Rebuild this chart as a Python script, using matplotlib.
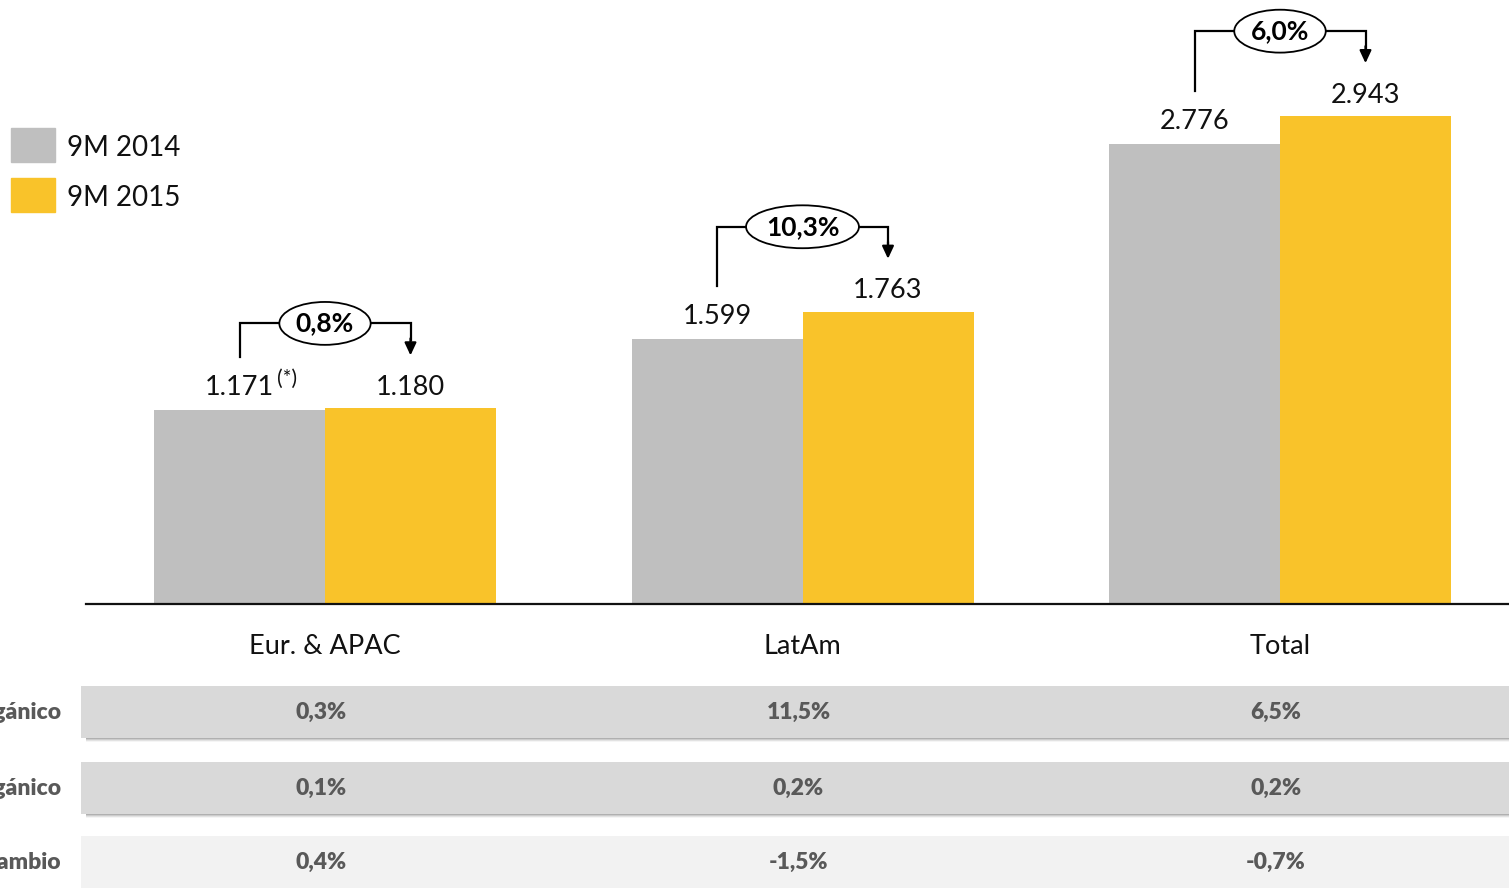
import matplotlib
matplotlib.use("Agg")
import matplotlib.pyplot as plt
from matplotlib.patches import Rectangle
import numpy as np

plt.rcParams['font.family'] = ['Lato', 'DejaVu Sans']

# ---- data ----
categories = ["Eur. & APAC", "LatAm", "Total"]
series_names = ["9M 2014", "9M 2015"]
v2014 = [1171, 1599, 2776]
v2015 = [1180, 1763, 2943]
growth_labels = ["0,8%", "10,3%", "6,0%"]
row_names = ["Orgánico", "Inorgánico", "Tipo de cambio"]
row_values = [["0,3%", "11,5%", "6,5%"],
              ["0,1%", "0,2%", "0,2%"],
              ["0,4%", "-1,5%", "-0,7%"]]
footnote_mark = "(*)"

GRAY = "#bfbfbf"
YELLOW = "#f9c32a"
TXT_GRAY = "#595959"

W, H = 1509, 888
fig = plt.figure(figsize=(W / 100, H / 100), dpi=100)

def fx(x):
    return x / W

def fy(y):
    return 1 - y / H

# bar axes
ax_left, ax_base = 86, 604
ax = fig.add_axes([fx(ax_left), fy(ax_base), 1 - fx(ax_left), ax_base / H])
px_per_x = 477.5
px_per_y = 0.16576
x = np.arange(len(categories))
ax.set_xlim((ax_left - 325) / px_per_x, (W - 325) / px_per_x)
ax.set_ylim(0, ax_base / px_per_y)
ax.patch.set_alpha(0)
for s in ["top", "right", "left"]:
    ax.spines[s].set_visible(False)
ax.spines["bottom"].set_color("#111111")
ax.spines["bottom"].set_linewidth(1.6)
ax.set_xticks([])
ax.set_yticks([])

bw = 171 / px_per_x
ax.bar(x - bw / 2, v2014, bw, color=GRAY, zorder=2)
ax.bar(x + bw / 2, v2015, bw, color=YELLOW, zorder=2)

def dy(px):
    return px / px_per_y

def dx(px):
    return px / px_per_x

fmt = lambda v: f"{v:,}".replace(",", ".")
FS = 19.5
for i in range(len(categories)):
    ax.text(x[i] - bw / 2, v2014[i] + dy(22), fmt(v2014[i]), ha="center", va="center",
            fontsize=FS, color="#111111", zorder=5)
    ax.text(x[i] + bw / 2, v2015[i] + dy(21), fmt(v2015[i]), ha="center", va="center",
            fontsize=FS, color="#111111", zorder=5)
# footnote mark
ax.text(x[0] - bw / 2 + dx(37), v2014[0] + dy(31), footnote_mark, ha="left", va="center",
        fontsize=15, color="#111111")

# growth brackets
for i in range(len(categories)):
    xl = x[i] - bw / 2
    xr = x[i] + bw / 2
    top = max(v2014[i], v2015[i]) + dy(85)
    ax.plot([xl, xl, xr, xr], [v2014[i] + dy(53), top, top, v2015[i] + dy(68)],
            color="black", lw=1.6, solid_joinstyle="miter", zorder=3)
    ax.annotate("", xy=(xr, v2015[i] + dy(53)), xytext=(xr, v2015[i] + dy(70)),
                arrowprops=dict(arrowstyle="-|>,head_length=0.75,head_width=0.35",
                                color="black", lw=1.6, shrinkA=0, shrinkB=0),
                zorder=3)
    ax.text(x[i], top, growth_labels[i], ha="center", va="center", fontsize=19,
            fontweight="bold", color="black", zorder=6,
            bbox=dict(boxstyle="ellipse,pad=0.12", fc="white", ec="black", lw=1.3))

# category labels
for i, c in enumerate(categories):
    ax.text(x[i], -42 / ax_base, c, transform=ax.get_xaxis_transform(), ha="center",
            va="center", fontsize=FS, color="#111111", clip_on=False)

# legend
for j, (name, col) in enumerate(zip(series_names, [GRAY, YELLOW])):
    ytop = 128 + j * 50
    fig.add_artist(Rectangle((fx(11), fy(ytop + 34)), 44 / W, 34 / H,
                             transform=fig.transFigure, color=col))
    fig.text(fx(67), fy(ytop + 20), name, ha="left", va="center", fontsize=20,
             color="#111111")

# table rows
row_tops = [686, 762, 836]
row_cols = ["#d9d9d9", "#d9d9d9", "#f2f2f2"]
for r, (yt, col) in enumerate(zip(row_tops, row_cols)):
    if r < 2:
        for k, a in enumerate([0.35, 0.22, 0.12, 0.06]):
            fig.add_artist(Rectangle((fx(86), fy(yt + 51 + k + 1.5)), 1 - fx(86), 1.5 / H,
                                     transform=fig.transFigure, color="#606060",
                                     alpha=a, lw=0))
    fig.add_artist(Rectangle((fx(81), fy(yt + 52)), 1 - fx(81), 52 / H,
                             transform=fig.transFigure, color=col, lw=0))
    yc = fy(yt + 26)
    fig.text(fx(61), yc, row_names[r], ha="right", va="center", fontsize=16.5,
             fontweight="heavy", color=TXT_GRAY)
    for i in range(len(categories)):
        xc = ax.transData.transform((x[i], 0))[0] / W - 4 / W
        fig.text(xc, yc, row_values[r][i], ha="center", va="center", fontsize=16.5,
                 fontweight="heavy", color=TXT_GRAY)

fig.savefig("out.png", dpi=100)
